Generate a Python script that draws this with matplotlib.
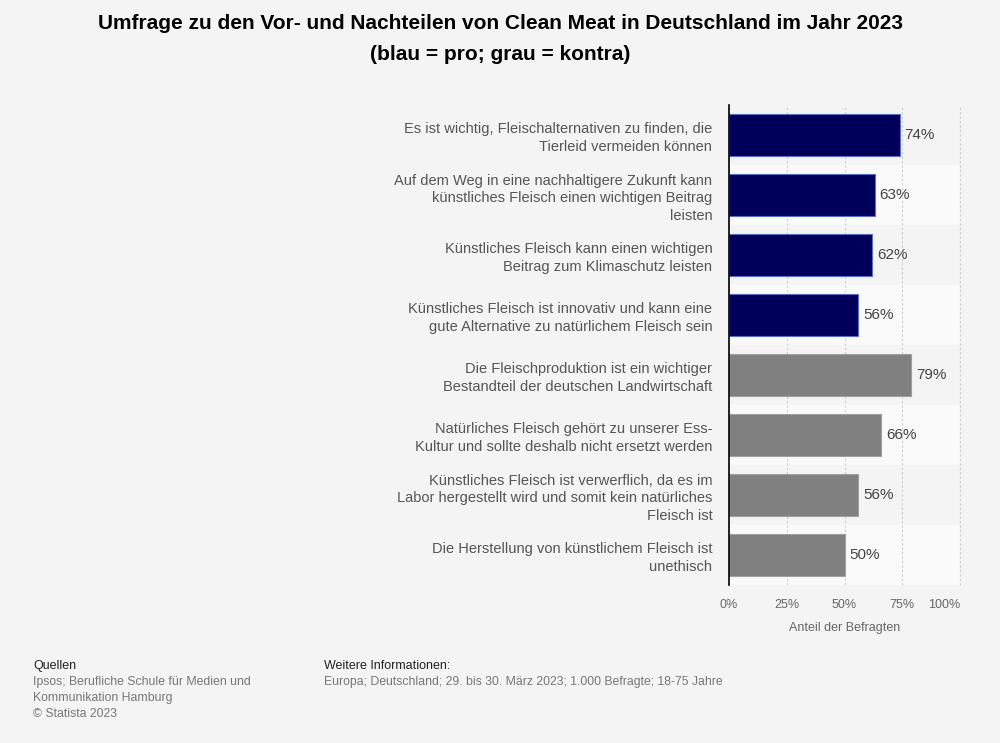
import matplotlib.pyplot as plt
import numpy as np

plt.rcParams['font.family'] = ['Liberation Sans', 'DejaVu Sans']

# data
labels = [
    'Es ist wichtig, Fleischalternativen zu finden, die\nTierleid vermeiden können',
    'Auf dem Weg in eine nachhaltigere Zukunft kann\nkünstliches Fleisch einen wichtigen Beitrag\nleisten',
    'Künstliches Fleisch kann einen wichtigen\nBeitrag zum Klimaschutz leisten',
    'Künstliches Fleisch ist innovativ und kann eine\ngute Alternative zu natürlichem Fleisch sein',
    'Die Fleischproduktion ist ein wichtiger\nBestandteil der deutschen Landwirtschaft',
    'Natürliches Fleisch gehört zu unserer Ess-\nKultur und sollte deshalb nicht ersetzt werden',
    'Künstliches Fleisch ist verwerflich, da es im\nLabor hergestellt wird und somit kein natürliches\nFleisch ist',
    'Die Herstellung von künstlichem Fleisch ist\nunethisch',
]
values = [74, 63, 62, 56, 79, 66, 56, 50]
stance = ['pro', 'pro', 'pro', 'pro', 'kontra', 'kontra', 'kontra', 'kontra']
ticks = [0, 25, 50, 75, 100]

colors = {'pro': '#00005a', 'kontra': '#808080'}
edges = {'pro': '#5b6fc0', 'kontra': '#a0a0a0'}

bg = '#f4f4f4'
fig = plt.figure(figsize=(10, 7.43), dpi=100, facecolor=bg)
ax = fig.add_axes([0.729, 0.2127, 0.231, 0.646])
ax.set_facecolor(bg)

y = np.arange(len(values))
# alternating row bands
for i in y:
    if i % 2 == 1:
        ax.axhspan(i - 0.5, i + 0.5, color='#fafafa', zorder=0, lw=0)

ax.barh(y, values, height=0.7,
        color=[colors[s] for s in stance],
        edgecolor=[edges[s] for s in stance], linewidth=0.8, zorder=3)

for yi, v in zip(y, values):
    ax.text(v + 2, yi, f'{v}%', va='center', ha='left', fontsize=11,
            color='#444444', zorder=4)

ax.set_xlim(0, 100)
ax.set_ylim(len(values) - 0.5, -0.5)
ax.set_yticks(y)
ax.set_yticklabels(labels, fontsize=10.5, color='#555555', linespacing=1.35)
ax.tick_params(axis='y', length=0, pad=12)
ax.set_xticks(ticks)
ax.set_xticklabels([f'{t}%' for t in ticks], fontsize=9, color='#666666')
ax.get_xticklabels()[-1].set_ha('right')
ax.tick_params(axis='x', length=0, pad=10)
ax.set_xlabel('Anteil der Befragten', fontsize=9, color='#666666', labelpad=8)

ax.grid(axis='x', color='#cccccc', linestyle=(0, (2, 2)), linewidth=0.8, zorder=1)
ax.axvline(100, color='#cccccc', linestyle=(0, (2, 2)), linewidth=0.8, zorder=1, clip_on=False)
for s in ['top', 'right', 'bottom']:
    ax.spines[s].set_visible(False)
ax.spines['left'].set_color('#000000')
ax.spines['left'].set_linewidth(1.2)
ax.spines['left'].set_zorder(5)

fig.text(0.5, 0.981, 'Umfrage zu den Vor- und Nachteilen von Clean Meat in Deutschland im Jahr 2023\n(blau = pro; grau = kontra)',
         ha='center', va='top', fontsize=15, fontweight='bold', color='#000000', linespacing=1.8)

# footer
fig.text(0.033, 0.104, 'Quellen', fontsize=9, color='#222222', va='center')
fig.text(0.033, 0.061, 'Ipsos; Berufliche Schule für Medien und\nKommunikation Hamburg\n© Statista 2023',
         fontsize=8.8, color='#777777', va='center', linespacing=1.45)
fig.text(0.324, 0.104, 'Weitere Informationen:', fontsize=9, color='#222222', va='center')
fig.text(0.324, 0.082, 'Europa; Deutschland; 29. bis 30. März 2023; 1.000 Befragte; 18-75 Jahre',
         fontsize=8.8, color='#777777', va='center')

fig.savefig('out.png', dpi=100, facecolor=bg)
